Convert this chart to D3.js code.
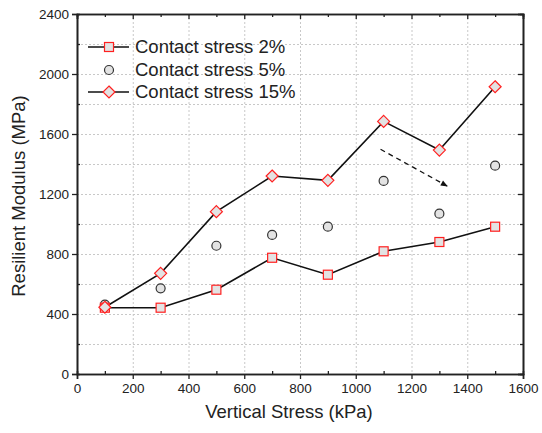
<!DOCTYPE html>
<html>
<head>
<meta charset="utf-8">
<script src="https://cdn.jsdelivr.net/npm/d3@7"></script>
<style>
  html, body { margin: 0; padding: 0; background: #fff; }
  svg { display: block; font-family: "Liberation Sans", Arial, sans-serif; }
</style>
</head>
<body>
<svg id="chart" width="542" height="433"></svg>
<script>
// Vertical stress levels (kPa)
const verticalStress = [100, 300, 500, 700, 900, 1100, 1300, 1500];
// Resilient modulus (MPa) per contact stress level
const contact2 = [442, 442, 562, 775, 662, 818, 880, 982];
const contact5 = [462, 571, 855, 927, 982, 1287, 1069, 1389];
const contact15 = [445, 671, 1082, 1320, 1291, 1684, 1493, 1915];
const seriesNames = ["Contact stress 2%", "Contact stress 5%", "Contact stress 15%"];
const xTicks = [0, 200, 400, 600, 800, 1000, 1200, 1400, 1600];
const yTicks = [0, 400, 800, 1200, 1600, 2000, 2400];
// Trend arrow: [x, y] start and end in data units
const arrowFrom = [1089, 1498];
const arrowTo = [1328, 1253];

(function () {
const svg = d3.select("#chart");
const m = { left: 77, right: 523, top: 14, bottom: 374 };

const x = d3.scaleLinear().domain([0, 1600]).range([m.left, m.right]);
const y = d3.scaleLinear().domain([0, 2400]).range([m.bottom, m.top]);

const xMinor = d3.range(100, 1600, 200);
const yMinor = d3.range(200, 2400, 400);
const fmt = d3.format("d");

// Grid
const grid = svg.append("g").attr("stroke", "#c8c8c8").attr("stroke-width", 1)
  .attr("stroke-dasharray", "2,2");
grid.selectAll(".gx").data(xTicks.slice(1, -1)).join("line")
  .attr("x1", d => x(d) + 0.5).attr("x2", d => x(d) + 0.5)
  .attr("y1", m.top).attr("y2", m.bottom);
grid.selectAll(".gy").data(d3.range(200, 2400, 200)).join("line")
  .attr("y1", d => y(d) + 0.5).attr("y2", d => y(d) + 0.5)
  .attr("x1", m.left).attr("x2", m.right);

// Axes
const axisColor = "#222";
svg.append("g").attr("transform", `translate(0,${m.bottom})`)
  .call(d3.axisBottom(x).tickValues(xTicks).tickFormat(fmt).tickSize(5).tickPadding(4));
svg.append("g").attr("transform", `translate(${m.left},0)`)
  .call(d3.axisLeft(y).tickValues(yTicks).tickFormat(fmt).tickSize(5).tickPadding(3));
svg.append("g").attr("transform", `translate(0,${m.top})`)
  .call(d3.axisTop(x).tickValues(xTicks).tickSize(-5).tickFormat(""));
svg.append("g").attr("transform", `translate(${m.right},0)`)
  .call(d3.axisRight(y).tickValues(yTicks).tickSize(-5).tickFormat(""));
// Minor ticks, pointing into the plot
svg.append("g").attr("transform", `translate(0,${m.bottom})`)
  .call(d3.axisBottom(x).tickValues(xMinor).tickSize(-3).tickFormat(""));
svg.append("g").attr("transform", `translate(${m.left},0)`)
  .call(d3.axisLeft(y).tickValues(yMinor).tickSize(-3).tickFormat(""));
svg.append("g").attr("transform", `translate(0,${m.top})`)
  .call(d3.axisTop(x).tickValues(xMinor).tickSize(-3).tickFormat(""));
svg.append("g").attr("transform", `translate(${m.right},0)`)
  .call(d3.axisRight(y).tickValues(yMinor).tickSize(-3).tickFormat(""));

svg.selectAll(".domain").attr("stroke", axisColor).attr("stroke-width", 1.6);
svg.selectAll(".tick line").attr("stroke", axisColor).attr("stroke-width", 1.3);
svg.selectAll(".tick text").attr("fill", "#222").style("font-size", "13.5px")
  .style("font-family", "'Liberation Sans', Arial, sans-serif");

// Axis titles
svg.append("text").attr("x", (m.left + m.right) / 2 - 11).attr("y", 418)
  .attr("text-anchor", "middle").attr("fill", "#222").style("font-size", "18.5px")
  .text("Vertical Stress (kPa)");
svg.append("text").attr("transform", `translate(25,${(m.top + m.bottom) / 2 + 2}) rotate(-90)`)
  .attr("text-anchor", "middle").attr("fill", "#222").style("font-size", "18.5px")
  .text("Resilient Modulus (MPa)");

// Lines
const line = d3.line().x((d, i) => x(verticalStress[i])).y(d => y(d));
[contact2, contact15].forEach(s => {
  svg.append("path").datum(s).attr("d", line).attr("fill", "none")
    .attr("stroke", "#111").attr("stroke-width", 1.6);
});

// Trend arrow
svg.append("defs").append("marker").attr("id", "arrowhead")
  .attr("viewBox", "0 0 10 10").attr("refX", 9).attr("refY", 5)
  .attr("markerWidth", 8).attr("markerHeight", 7).attr("orient", "auto")
  .attr("markerUnits", "userSpaceOnUse")
  .append("path").attr("d", "M0,1 L10,5 L0,9 Z").attr("fill", "#111");
svg.append("line")
  .attr("x1", x(arrowFrom[0])).attr("y1", y(arrowFrom[1]))
  .attr("x2", x(arrowTo[0])).attr("y2", y(arrowTo[1]))
  .attr("stroke", "#111").attr("stroke-width", 1.3).attr("stroke-dasharray", "5,4")
  .attr("marker-end", "url(#arrowhead)");

// Markers
const fill = "#e3e3e3";
function square(g, cx, cy) {
  g.append("rect").attr("x", cx - 4.5).attr("y", cy - 4.5).attr("width", 9).attr("height", 9)
    .attr("fill", fill).attr("stroke", "#ff2020").attr("stroke-width", 1.2);
}
function circle(g, cx, cy) {
  g.append("circle").attr("cx", cx).attr("cy", cy).attr("r", 4.5)
    .attr("fill", fill).attr("stroke", "#333").attr("stroke-width", 1.2);
}
function diamond(g, cx, cy) {
  const r = 6;
  g.append("path").attr("d", `M${cx},${cy - r}L${cx + r},${cy}L${cx},${cy + r}L${cx - r},${cy}Z`)
    .attr("fill", fill).attr("stroke", "#ff2020").attr("stroke-width", 1.2);
}
const pts = svg.append("g");
contact5.forEach((v, i) => circle(pts, x(verticalStress[i]), y(v)));
contact2.forEach((v, i) => square(pts, x(verticalStress[i]), y(v)));
contact15.forEach((v, i) => diamond(pts, x(verticalStress[i]), y(v)));

// Legend
const legend = svg.append("g");
const rowsY = [47, 70, 92];
const drawers = [square, circle, diamond];
seriesNames.forEach((name, i) => {
  if (i !== 1) {
    legend.append("line").attr("x1", 88).attr("x2", 129).attr("y1", rowsY[i]).attr("y2", rowsY[i])
      .attr("stroke", "#111").attr("stroke-width", 1.6);
  }
  drawers[i](legend, 109, rowsY[i]);
  legend.append("text").attr("x", 135).attr("y", rowsY[i]).attr("dy", "0.35em")
    .attr("fill", "#222").style("font-size", "18.5px").text(name);
});
})();
</script>
</body>
</html>
